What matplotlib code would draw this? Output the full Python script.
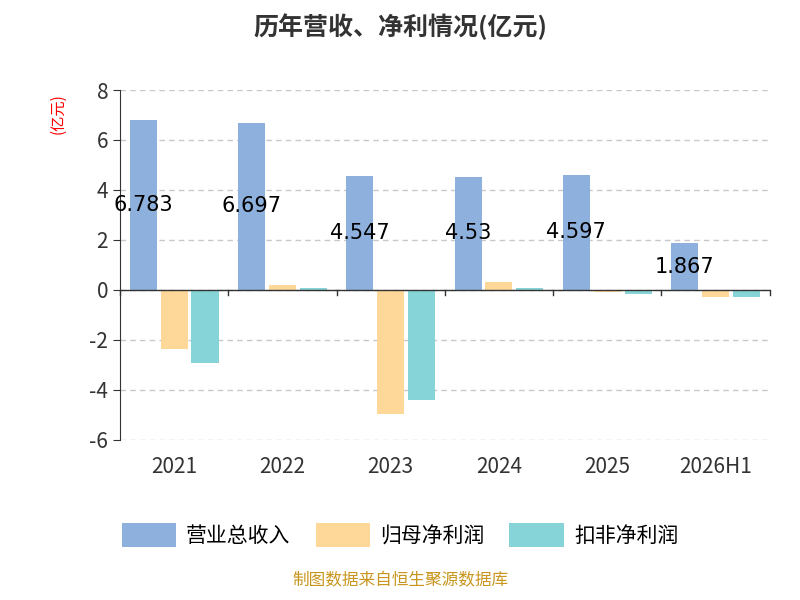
import matplotlib
matplotlib.use('Agg')
import matplotlib.pyplot as plt
import numpy as np

plt.rcParams['font.family'] = ['Noto Sans CJK SC', 'DejaVu Sans']
plt.rcParams['axes.unicode_minus'] = False

years = ['2021', '2022', '2023', '2024', '2025', '2026H1']
revenue = [6.783, 6.697, 4.547, 4.53, 4.597, 1.867]
net_profit = [-2.35, 0.18, -4.98, 0.30, -0.10, -0.27]
deducted = [-2.92, 0.08, -4.42, 0.07, -0.15, -0.30]
names = ['营业总收入', '归母净利润', '扣非净利润']
colors = ['#8eb0dc', '#fed898', '#86d4d8']

fig = plt.figure(figsize=(8, 6), dpi=100)
ax = fig.add_axes([0.15, 0.267, 0.812, 0.583])

x = np.arange(len(years))
w = 0.25
for i, (vals, c) in enumerate(zip([revenue, net_profit, deducted], colors)):
    ax.bar(x + (i - 1) * 0.285, vals, w, color=c, label=names[i], zorder=2)
for xi, v in zip(x, revenue):
    ax.text(xi - 0.285, v / 2, str(v), ha='center', va='center', fontsize=15,
            family='DejaVu Sans', zorder=3)

ax.set_xlim(-0.5, len(years) - 0.5)
ax.set_ylim(-6, 8)
ax.set_yticks(range(-6, 9, 2))
ax.yaxis.grid(True, linestyle=(0, (4, 3)), color='#c8c8c8', linewidth=1)
for s in ['top', 'right', 'bottom']:
    ax.spines[s].set_visible(False)
ax.spines['left'].set_color('#333333')
ax.axhline(0, color='#333333', linewidth=1, zorder=3)
ax.set_xticks(x)
ax.set_xticklabels(years)
ax.tick_params(axis='x', length=0, labelsize=15, colors='#333333', pad=12)
ax.tick_params(axis='y', labelsize=15, colors='#333333', length=5)
for b in np.arange(-0.5, len(years), 1):
    ax.plot([b, b], [0, -0.22], color='#333333', linewidth=1, clip_on=False, zorder=3)

fig.text(0.073, 0.81, '(亿元)', color='red', rotation=90, fontsize=11, ha='center', va='center')
fig.text(0.5, 0.955, '历年营收、净利情况(亿元)', ha='center', va='center', fontsize=18,
         fontweight='bold', color='#333333')
fig.legend(loc='center', bbox_to_anchor=(0.5, 0.108), ncol=3, frameon=False, fontsize=15,
           handlelength=2.6, handleheight=1.4, columnspacing=1.2, handletextpad=0.5)
fig.text(0.5, 0.018, '制图数据来自恒生聚源数据库', ha='center', va='bottom', fontsize=12, color='#c8961e')

fig.savefig('out.png')
